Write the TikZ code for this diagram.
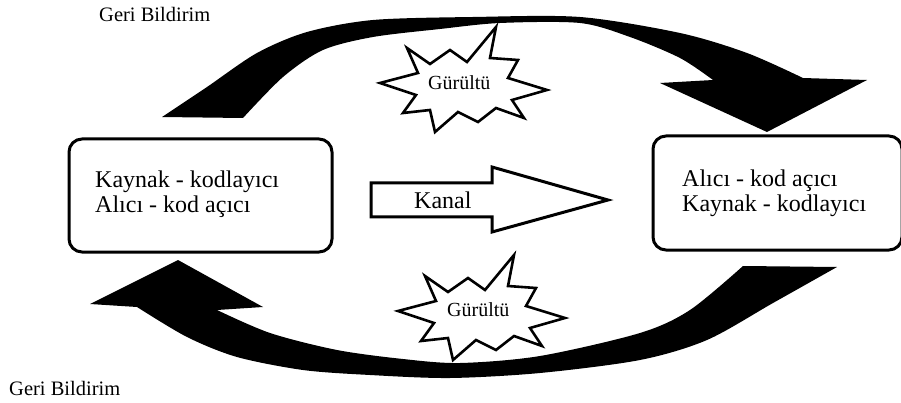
\documentclass[tikz,border=0pt]{standalone}
\usepackage{fontspec}
\setmainfont{Liberation Serif}
\begin{document}
\begin{tikzpicture}[x=1pt,y=-1pt,
  box/.style={draw, line width=3pt, rounded corners=13pt, inner sep=0pt},
  boxtext/.style={anchor=base west, inner sep=0pt, align=left, text=black,
    font=\fontsize{24}{25}\selectfont},
  label/.style={anchor=base west, inner sep=0pt, text=black,
    font=\fontsize{20.5}{22}\selectfont},
  noisetext/.style={anchor=base west, inner sep=0pt, text=black,
    font=\fontsize{20}{22}\selectfont},
  hollowarrow/.style={draw, line width=3pt, fill=white, line join=miter},
  burst/.pic={
    \draw[line width=2.6pt, fill=white, line join=miter]
      (33,-55) -- (27,-24) -- (55,-22) -- (45,-4) -- (84,8) -- (49,18)
      -- (61,36) -- (33,26) -- (15,40) -- (-5,30) -- (-28,50) -- (-33,28)
      -- (-60,31) -- (-47,13) -- (-83,1) -- (-45,-9) -- (-56,-34)
      -- (-33,-18) -- (-13,-32) -- (4,-20) -- cycle;
  }
]
\clip (0,0) rectangle (901,403);
\fill[white] (0,0) rectangle (901,403);

% the two end points of the link
\node[box, minimum width=263pt, minimum height=113pt] (src) at (200.5,195.5) {};
\node[box, minimum width=249pt, minimum height=114pt] (dst) at (777.5,193) {};
% base anchor of a two-line node sits on its last line
\node[boxtext] (srctext) at (95,213) {Kaynak - kodlayıcı\\Alıcı - kod açıcı};
\node[boxtext] (dsttext) at (682,212) {Alıcı - kod açıcı\\Kaynak - kodlayıcı};

% channel arrow
\draw[hollowarrow] (371,183) -- (492,183) -- (492,167) -- (608,200)
  -- (492,232) -- (492,217) -- (371,217) -- cycle;
\node[boxtext] (kanal) at (414,209) {Kanal};

% upper feedback arrow (left to right)
\fill[black]
  plot[smooth] coordinates {(162,117) (207,87) (257,53) (307,32) (373,20)
    (473,17) (580,17) (680,33) (747,53) (803,78)}
  -- (867,80) -- (767,132) -- (660,83) -- (713,80)
  -- plot[smooth] coordinates {(713,80) (680,58) (630,37) (580,23) (500,23)
    (440,29) (373,37) (323,50) (283,77) (243,118)}
  -- cycle;

% lower feedback arrow (right to left)
\fill[black]
  plot[smooth] coordinates {(837,267) (773,303) (707,340) (640,360) (540,373)
    (450,378) (370,375) (303,370) (237,357) (187,337) (137,307)}
  -- (90,304) -- (178,260) -- (263,307) -- (217,310)
  -- plot[smooth] coordinates {(217,310) (270,333) (337,350) (403,359)
    (460,363) (540,356) (640,333) (690,310) (743,266)}
  -- cycle;

% noise bursts
\pic at (463,82) {burst};
\pic at (481,310) {burst};
\node[noisetext] (noise1) at (428,90) {Gürültü};
\node[noisetext] (noise2) at (447,316) {Gürültü};

% feedback labels
\node[label] (fbtop) at (99,22) {Geri Bildirim};
\node[label] (fbbottom) at (9,395) {Geri Bildirim};
\end{tikzpicture}
\end{document}
